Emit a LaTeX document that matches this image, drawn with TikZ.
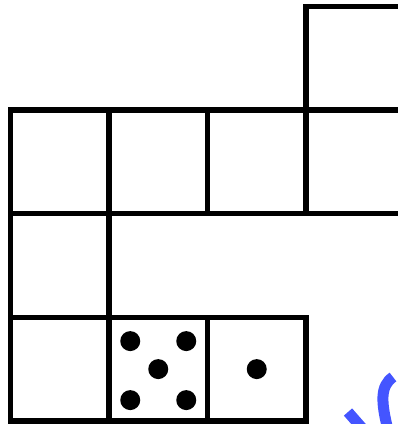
\documentclass[tikz,border=0pt]{standalone}
\usepackage{tikz}
\usetikzlibrary{positioning,calc}

\begin{document}
\begin{tikzpicture}[
    x=1pt, y=-1pt,
    face/.style={
        rectangle, draw=black, line width=5.3pt,
        minimum width=98.5pt, minimum height=103.6pt,
        inner sep=0pt, outer sep=0pt
    },
    pip/.style={
        circle, fill=black, minimum size=20pt, inner sep=0pt
    },
    pen/.style={line width=11pt, draw=penblue},
]
\definecolor{penblue}{HTML}{4455FF}
\useasboundingbox (0,0) rectangle (398,424);
\clip (0,0) rectangle (398,424);

% -- top row --
\node[face] (top)  at (355.25, 58.3) {};

% -- second row --
\node[face] (r2a) at ( 59.75,161.9) {};
\node[face] (r2b) at (158.25,161.9) {};
\node[face] (r2c) at (256.75,161.9) {};
\node[face] (r2d) at (355.25,161.9) {};

% -- third row --
\node[face] (r3a) at ( 59.75,265.5) {};

% -- bottom row --
\node[face] (r4a)  at ( 59.75,369.1) {};
\node[face] (five) at (158.25,369.1) {};
\node[face] (one)  at (256.75,369.1) {};

% pips
\node[pip] (p1) at ($(five)+(-28,-28)$) {};
\node[pip] (p2) at ($(five)+( 28,-28)$) {};
\node[pip] (p3) at (five) {};
\node[pip] (p4) at ($(five)+(-28, 31)$) {};
\node[pip] (p5) at ($(five)+( 28, 31)$) {};
\node[pip] (p6) at (one) {};

% -- pen marks --
\draw[pen] (393,377) .. controls (380,386) and (381,402) .. (388,430);
\draw[pen] (348,412) -- (362,428);

\end{tikzpicture}
\end{document}
